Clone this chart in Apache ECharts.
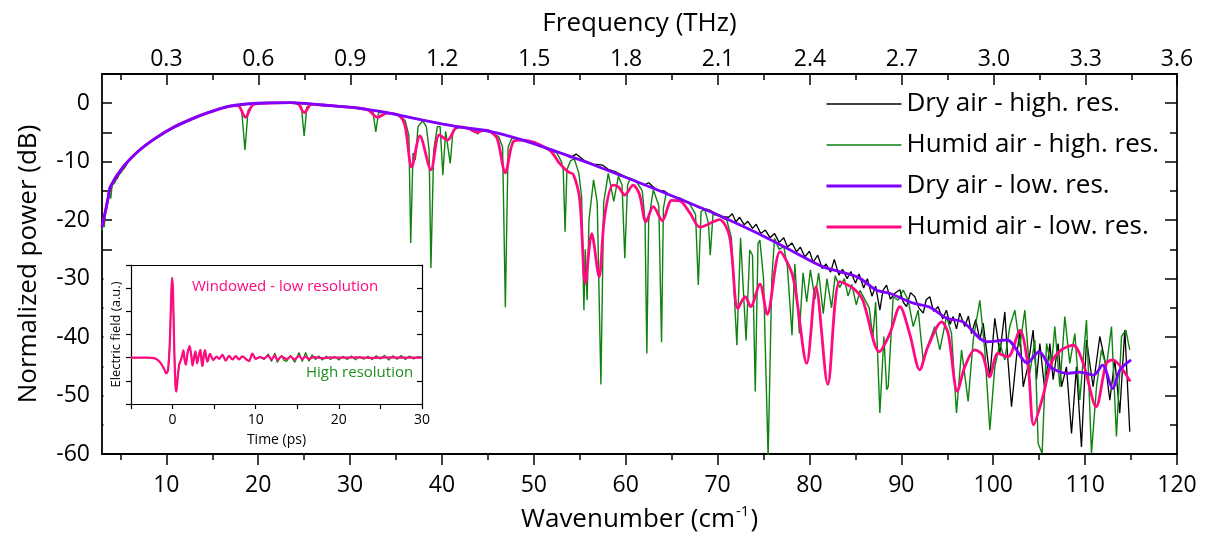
<!DOCTYPE html>
<html>
<head>
<meta charset="utf-8">
<script src="https://cdn.jsdelivr.net/npm/echarts@6/dist/echarts.min.js"></script>
<style>html,body{margin:0;padding:0;background:#fff}#c{width:1210px;height:538px}</style>
</head>
<body>
<div id="c"></div>
<script>
// ---------- tick labels ----------
const wavenumberTicks = [10,20,30,40,50,60,70,80,90,100,110,120];
const wavenumberMinor = [5,15,25,35,45,55,65,75,85,95,105,115];
const frequencyTicks = [0.3,0.6,0.9,1.2,1.5,1.8,2.1,2.4,2.7,3.0,3.3,3.6];
const frequencyMinor = [0.15,0.45,0.75,1.05,1.35,1.65,1.95,2.25,2.55,2.85,3.15,3.45];
const powerTicks = [-60,-50,-40,-30,-20,-10,0];
const powerMinor = [-55,-45,-35,-25,-15,-5];
const timeTicks = [0,10,20,30];
const timeMinor = [-5,0,5,10,15,20,25,30];

// ---------- series: [wavenumber (cm-1), power (dB)] ----------
const dryHighRes = [[3.0,-21.6],[3.2,-20.0],[3.4,-18.3],[3.6,-17.0],[3.8,-15.0],[4.0,-14.6],[4.3,-13.2],[4.6,-13.0],[5.0,-11.8],[5.5,-10.9],[6.0,-9.6],[7.0,-8.1],[8.0,-6.8],[9.0,-5.9],[10.0,-4.9],[11.0,-4.0],[12.0,-3.3],[13.0,-2.5],[14.0,-2.0],[15.0,-1.3],[16.0,-0.9],[17.0,-0.5],[18.0,-0.3],[20.0,0.0],[22.0,0.1],[24.0,0.0],[26.0,-0.2],[28.0,-0.4],[30.0,-0.7],[32.0,-1.1],[34.0,-1.6],[36.0,-2.2],[38.0,-2.9],[40.0,-3.5],[42.0,-4.1],[44.0,-4.5],[45.5,-5.0],[47.0,-5.5],[49.0,-6.4],[51.0,-7.4],[53.0,-8.5],[54.0,-9.3],[54.6,-8.7],[55.5,-9.8],[56.5,-10.4],[57.5,-10.6],[58.1,-11.3],[59.0,-11.8],[60.0,-12.6],[61.0,-13.2],[62.0,-14.0],[62.5,-13.6],[63.4,-14.9],[64.2,-15.0],[65.0,-15.9],[66.0,-16.3],[67.0,-17.1],[68.0,-17.9],[69.0,-18.2],[70.0,-19.0],[70.6,-19.4],[71.2,-19.5],[71.6,-18.9],[72.0,-20.3],[72.4,-19.5],[72.9,-20.8],[73.3,-20.2],[73.8,-21.4],[74.2,-20.7],[74.7,-22.3],[75.2,-21.7],[75.7,-23.0],[76.2,-22.3],[76.7,-23.8],[77.2,-23.0],[77.6,-24.6],[78.1,-23.9],[78.6,-25.4],[79.0,-24.6],[79.5,-26.3],[80.0,-25.3],[80.4,-27.2],[80.9,-26.0],[81.4,-28.3],[81.8,-27.5],[82.3,-28.9],[82.7,-26.7],[83.2,-29.4],[83.6,-28.4],[84.1,-30.0],[84.5,-28.8],[85.0,-30.8],[85.4,-29.2],[85.9,-31.6],[86.3,-30.0],[86.8,-33.0],[87.2,-31.3],[87.66,-35.4],[88.0,-32.0],[88.39,-31.1],[88.8,-33.5],[89.29,-32.5],[89.84,-31.9],[90.2,-34.0],[90.56,-34.8],[91.0,-32.4],[91.47,-33.1],[91.9,-35.0],[92.38,-35.9],[92.7,-33.6],[93.1,-33.1],[93.5,-35.6],[94.0,-34.8],[94.5,-36.9],[94.9,-35.4],[95.3,-37.8],[95.64,-36.5],[96.0,-38.6],[96.36,-35.9],[96.9,-38.2],[97.3,-36.4],[97.63,-39.4],[98.1,-37.0],[98.54,-40.5],[98.9,-37.6],[99.27,-42.2],[99.63,-46.8],[100.17,-36.8],[100.72,-42.8],[101.26,-35.7],[101.6,-44.0],[101.99,-51.9],[102.53,-43.4],[102.9,-39.0],[103.26,-48.5],[103.8,-44.8],[104.34,-38.8],[104.71,-47.3],[105.07,-41.1],[105.61,-49.1],[106.16,-41.1],[106.52,-47.3],[107.06,-41.1],[107.43,-48.5],[107.97,-45.1],[108.52,-56.5],[109.06,-45.1],[109.6,-58.8],[110.15,-40.5],[110.87,-48.5],[111.6,-39.9],[112.14,-43.9],[112.69,-50.8],[113.23,-43.9],[113.77,-53.0],[114.32,-38.8],[114.86,-56.2]];

const humidHighRes = [[3.0,-21.8],[3.1,-19.6],[3.25,-21.2],[3.4,-18.0],[3.6,-17.2],[3.8,-15.2],[3.95,-16.3],[4.1,-14.0],[4.4,-13.6],[4.7,-12.3],[5.0,-12.0],[5.5,-10.9],[6.0,-9.6],[7.0,-8.1],[8.0,-6.8],[9.0,-5.9],[10.0,-4.9],[11.0,-4.0],[12.0,-3.3],[13.0,-2.5],[14.0,-2.0],[15.0,-1.3],[16.0,-0.9],[17.0,-0.5],[17.8,-0.4],[18.2,-1.2],[18.56,-8.0],[18.9,-1.2],[19.4,-0.3],[20.0,0.0],[22.0,0.1],[24.0,0.0],[24.7,-0.6],[25.0,-5.6],[25.3,-0.6],[26.0,-0.2],[28.0,-0.4],[30.0,-0.7],[32.0,-1.1],[32.5,-1.6],[32.8,-4.9],[33.1,-1.6],[34.0,-1.6],[35.4,-2.0],[36.0,-3.0],[36.4,-5.5],[36.6,-23.9],[36.85,-8.5],[37.1,-9.7],[37.4,-4.0],[37.9,-3.0],[38.3,-4.0],[38.6,-8.0],[38.8,-28.2],[39.1,-8.0],[39.5,-4.0],[39.8,-4.0],[40.1,-12.3],[40.4,-4.8],[40.6,-4.6],[40.9,-10.3],[41.2,-4.6],[42.0,-4.1],[43.6,-4.5],[43.9,-5.3],[44.2,-4.5],[45.5,-5.0],[46.2,-5.8],[46.6,-7.5],[46.9,-34.9],[47.2,-7.5],[47.6,-6.0],[49.0,-6.4],[51.0,-7.4],[52.5,-8.5],[53.0,-10.0],[53.2,-11.4],[53.4,-22.0],[53.6,-11.4],[54.0,-9.8],[54.4,-9.5],[54.9,-12.0],[55.2,-16.0],[55.45,-35.4],[55.6,-25.0],[55.8,-33.7],[56.0,-20.0],[56.5,-13.1],[56.9,-17.0],[57.3,-48.1],[57.6,-17.0],[58.1,-12.0],[58.7,-16.8],[59.2,-12.5],[59.6,-14.0],[59.9,-26.5],[60.2,-14.0],[60.5,-12.8],[61.2,-13.5],[61.8,-15.0],[62.1,-20.0],[62.3,-42.8],[62.5,-20.0],[63.0,-14.8],[63.6,-17.5],[63.9,-40.9],[64.1,-18.0],[64.4,-15.4],[65.0,-15.9],[66.0,-16.3],[67.0,-17.3],[67.6,-19.0],[67.9,-31.1],[68.2,-18.5],[68.6,-18.2],[69.0,-20.5],[69.2,-26.0],[69.5,-19.0],[70.0,-19.2],[71.0,-20.0],[71.5,-23.0],[72.1,-41.4],[72.5,-23.0],[72.7,-22.8],[73.1,-40.6],[73.5,-25.1],[73.8,-26.0],[74.1,-49.3],[74.4,-24.0],[74.6,-23.4],[75.0,-30.0],[75.5,-60.5],[75.9,-30.0],[76.2,-23.1],[76.7,-25.0],[77.2,-24.5],[77.6,-28.0],[78.1,-39.7],[78.4,-27.5],[78.9,-39.4],[79.3,-29.0],[79.7,-34.0],[80.1,-28.5],[80.6,-33.5],[81.0,-29.0],[81.5,-36.0],[81.9,-30.0],[82.4,-35.0],[82.8,-29.5],[83.3,-31.5],[83.8,-30.0],[84.2,-33.0],[84.6,-31.0],[85.1,-34.5],[85.5,-32.0],[86.0,-33.5],[86.5,-35.0],[86.9,-40.0],[87.2,-34.0],[87.66,-53.0],[88.1,-39.9],[88.4,-49.0],[88.57,-48.5],[89.11,-33.1],[89.65,-33.7],[90.2,-31.95],[90.74,-33.7],[91.29,-38.2],[91.83,-35.4],[92.37,-43.9],[93.1,-40.5],[93.64,-38.2],[94.19,-42.2],[94.91,-36.5],[95.46,-39.4],[96.0,-53.0],[96.55,-42.2],[97.27,-51.0],[97.82,-40.5],[98.54,-33.7],[99.08,-42.2],[99.63,-55.9],[100.17,-45.1],[100.72,-41.1],[101.26,-43.9],[101.8,-38.2],[102.35,-35.4],[102.89,-41.6],[103.44,-35.4],[103.98,-46.2],[104.53,-40.5],[104.89,-58.2],[105.32,-59.9],[105.8,-41.1],[106.34,-45.1],[106.7,-38.2],[107.25,-48.5],[107.79,-36.5],[108.33,-44.5],[108.88,-39.4],[109.42,-50.8],[110.15,-37.1],[110.69,-59.9],[111.24,-48.5],[111.78,-42.2],[112.32,-45.1],[112.87,-38.2],[113.41,-57.0],[113.96,-39.9],[114.43,-38.8],[114.86,-42.2]];

const dryLowRes = [[3.0,-21.2],[3.33,-18.8],[3.69,-16.0],[3.9,-14.3],[5.3,-10.9],[7.1,-8.0],[9.0,-5.8],[10.7,-4.2],[12.6,-2.8],[14.4,-1.7],[16.9,-0.5],[19.9,0.0],[23.5,0.1],[27.0,-0.3],[30.7,-0.8],[34.3,-1.7],[37.9,-2.9],[41.6,-4.0],[45.2,-4.8],[48.8,-6.3],[52.5,-8.3],[56.1,-10.3],[59.7,-12.5],[63.4,-14.8],[67.0,-17.1],[70.6,-19.5],[74.3,-22.2],[77.9,-25.1],[81.5,-28.0],[85.2,-29.7],[87.3,-32.0],[88.7,-32.5],[91.3,-34.2],[93.1,-34.9],[95.0,-36.8],[96.7,-37.4],[99.3,-40.8],[101.5,-40.5],[103.7,-44.4],[105.0,-42.5],[106.2,-45.1],[108.0,-46.2],[109.4,-46.0],[110.9,-46.5],[111.9,-44.8],[113.0,-48.8],[113.8,-45.6],[115.0,-43.9]];

const humidLowRes = [[3.0,-21.2],[3.33,-18.8],[3.69,-16.0],[3.9,-14.3],[5.3,-10.9],[7.1,-8.0],[9.0,-5.8],[10.7,-4.2],[12.6,-2.8],[14.4,-1.7],[16.9,-0.5],[17.8,-0.4],[18.6,-2.4],[19.4,-0.3],[20.5,0.0],[23.5,0.1],[24.3,0.0],[25.0,-1.6],[25.8,-0.2],[27.0,-0.3],[30.7,-0.8],[32.0,-1.2],[33.0,-2.4],[34.0,-1.7],[35.4,-2.2],[36.0,-4.0],[36.7,-10.9],[37.6,-5.6],[38.8,-11.4],[39.7,-5.4],[40.6,-6.3],[41.7,-4.0],[43.0,-4.4],[43.8,-5.0],[44.6,-4.6],[45.2,-4.8],[46.0,-6.0],[46.9,-11.9],[47.8,-6.5],[48.8,-6.3],[51.7,-8.0],[52.8,-10.3],[53.7,-11.7],[54.3,-12.2],[55.0,-16.6],[55.6,-30.8],[56.3,-22.3],[57.1,-29.7],[57.7,-19.4],[58.6,-14.0],[59.2,-14.3],[59.9,-15.7],[60.8,-14.0],[61.5,-15.6],[62.2,-20.3],[63.0,-17.7],[64.0,-20.1],[65.0,-16.6],[65.9,-16.7],[67.0,-18.8],[68.1,-21.2],[70.2,-19.9],[71.3,-22.8],[72.2,-35.1],[73.0,-33.1],[73.6,-34.8],[74.6,-30.9],[75.4,-36.1],[76.8,-25.4],[78.2,-29.7],[79.7,-44.5],[80.7,-31.4],[82.0,-48.1],[83.3,-30.5],[84.8,-31.7],[85.8,-33.7],[87.6,-42.5],[88.75,-39.4],[89.84,-34.8],[90.9,-39.4],[92.0,-45.6],[92.9,-41.6],[94.4,-37.4],[95.1,-39.4],[96.1,-49.3],[96.9,-45.1],[98.0,-42.2],[98.8,-43.0],[99.6,-46.8],[100.5,-42.8],[101.6,-43.4],[102.9,-38.8],[103.8,-45.1],[104.4,-55.0],[105.4,-50.2],[106.3,-44.5],[107.4,-42.2],[108.7,-41.4],[109.8,-44.5],[111.2,-51.9],[112.3,-44.5],[113.0,-43.9],[114.9,-47.6]];

// ---------- inset: [time (ps), electric field (a.u.)] ----------
const insetPulse = [[-5,0],[-3,0],[-2.2,-0.02],[-1.8,-0.1],[-1.4,-0.25],[-1.0,-0.5],[-0.75,-0.68],[-0.55,-0.55],[-0.35,0.5],[-0.15,2.8],[-0.05,3.45],[0.05,2.9],[0.2,0.4],[0.35,-1.2],[0.45,-1.47],[0.6,-0.9],[0.8,-0.3],[1.0,-0.1],[1.15,0.1],[1.3,0.32],[1.45,-0.1],[1.6,-0.3],[1.8,0.2],[2.05,0.5],[2.25,0.1],[2.4,-0.34],[2.6,0.05],[2.75,0.27],[2.95,-0.25],[3.15,0.1],[3.35,0.34],[3.5,-0.2],[3.6,-0.36],[3.75,0.1],[3.9,0.33],[4.05,0.0],[4.2,-0.17],[4.5,0.16],[4.9,-0.1],[5.3,0.05],[5.6,-0.05],[6.0,0.12],[6.4,-0.13],[6.8,0.08],[7.2,-0.08],[7.6,0.07],[8.0,-0.08],[8.4,0.06],[8.8,-0.05],[9.2,-0.15],[9.6,0.18]];
const insetLowTail = [[10.0,-0.05],[10.5,0.02],[11.0,-0.03],[11.5,0.08],[11.9,-0.08],[12.3,0.1],[12.6,-0.1],[13.1,0.05],[13.7,-0.06],[14.2,0.04],[14.7,-0.07],[15.2,0.08],[15.6,-0.06],[16.0,0.05],[16.4,-0.05],[17,0.02],[18,-0.02],[19,0.01],[20,0],[22,0.01],[24,-0.01],[26,0.01],[28,0],[30,0]];
const insetHighTail = [[10.0,-0.05],[10.5,0.05],[11.0,-0.08],[11.5,0.16],[11.9,-0.17],[12.3,0.2],[12.6,-0.2],[13.1,0.1],[13.4,-0.12],[13.7,-0.16],[14.2,0.1],[14.7,-0.2],[15.2,0.22],[15.6,-0.17],[16.0,0.22],[16.4,-0.15],[16.8,0.12],[17.2,-0.08],[17.6,0.08],[18.0,-0.1],[18.5,0.06],[19.0,-0.08],[19.5,0.05],[20.0,-0.1],[20.5,0.06],[21.0,-0.08],[21.5,0.07],[22.0,-0.09],[22.5,0.05],[23.0,-0.07],[23.5,0.06],[24.0,-0.08],[24.5,0.08],[25.0,-0.06],[25.5,0.1],[26.0,-0.1],[26.5,0.08],[27.0,-0.07],[27.5,0.09],[28.0,-0.08],[28.5,0.07],[29.0,-0.06],[29.5,0.05],[30.0,0]];

// ---------- build option ----------
const THZ_TO_CM = 33.3564;
const WMIN = 3, WMAX = 120;
const toCm = f => Math.min(f * THZ_TO_CM, WMAX);
const FONT = 'Open Sans';
const C_BLACK = '#000000', C_GREEN = '#0f820f', C_PURPLE = '#7f00ff', C_PINK = '#ff0a80';
const axisLineStyle = { color: '#000', width: 1.8 };

const chart = echarts.init(document.getElementById('c'), null, { renderer: 'canvas' });

const option = {
  animation: false,
  backgroundColor: '#fff',
  textStyle: { fontFamily: FONT, color: '#000' },
  grid: [
    { left: 102, right: 33, top: 74, bottom: 84, containLabel: false, outerBoundsMode: 'none' },
    { left: 131, right: 788, top: 265, bottom: 134, z: 3, containLabel: false, outerBoundsMode: 'none' }
  ],
  legend: {
    show: true,
    orient: 'vertical', left: 820, top: 86,
    itemWidth: 75, itemHeight: 14, itemGap: 15,
    itemStyle: { opacity: 0 },
    textStyle: { fontFamily: FONT, fontSize: 26, color: '#000' },
    data: [
      { name: 'Dry air - high. res.', lineStyle: { width: 1.5 } },
      { name: 'Humid air - high. res.', lineStyle: { width: 1.5 } },
      { name: 'Dry air - low. res.', lineStyle: { width: 3 } },
      { name: 'Humid air - low. res.', lineStyle: { width: 3 } }
    ]
  },
  graphic: [
    { type: 'rect', z: 1, shape: { x: 103.5, y: 258, width: 326, height: 194.5 }, style: { fill: '#fff' } },
    { type: 'text', z: 10, left: 192, top: 279, style: { text: 'Windowed - low resolution', fill: C_PINK, font: '15px "Open Sans"' } },
    { type: 'text', z: 10, left: 306, top: 365, style: { text: 'High resolution', fill: '#1f8f1f', font: '15px "Open Sans"' } }
  ],
  xAxis: [
    { gridIndex: 0, type: 'value', min: WMIN, max: WMAX, position: 'bottom',
      axisLine: { show: true, onZero: false, lineStyle: axisLineStyle },
      axisTick: { show: true, inside: false, length: 11, lineStyle: { width: 1.5, color: '#000' }, customValues: wavenumberTicks },
      axisLabel: { fontSize: 23, fontFamily: FONT, color: '#000', margin: 20, customValues: wavenumberTicks },
      splitLine: { show: false },
      name: 'Wavenumber (cm{sup|-1})', nameLocation: 'middle', nameGap: 50,
      nameTextStyle: { fontSize: 26, fontFamily: FONT, color: '#000', lineHeight: 32,
        rich: { sup: { fontSize: 15, fontFamily: FONT, color: '#000', verticalAlign: 'top', lineHeight: 32, padding: [0, 1, 0, 1] } } } },
    { gridIndex: 0, type: 'value', min: WMIN, max: WMAX, position: 'bottom',
      axisLine: { show: false, onZero: false },
      axisTick: { show: true, inside: false, length: 6, lineStyle: { width: 1.5, color: '#000' }, customValues: wavenumberMinor },
      axisLabel: { show: false }, splitLine: { show: false } },
    { gridIndex: 0, type: 'value', min: WMIN, max: WMAX, position: 'top',
      axisLine: { show: true, onZero: false, lineStyle: axisLineStyle },
      axisTick: { show: true, inside: true, length: 11, lineStyle: { width: 1.5, color: '#000' }, customValues: frequencyTicks.map(toCm) },
      axisLabel: { fontSize: 23, fontFamily: FONT, color: '#000', margin: 3, customValues: frequencyTicks.map(toCm),
        formatter: v => (v / THZ_TO_CM).toFixed(1) },
      splitLine: { show: false },
      name: 'Frequency (THz)', nameLocation: 'middle', nameGap: 37,
      nameTextStyle: { fontSize: 26, fontFamily: FONT, color: '#000' } },
    { gridIndex: 0, type: 'value', min: WMIN, max: WMAX, position: 'top',
      axisLine: { show: false, onZero: false },
      axisTick: { show: true, inside: true, length: 6, lineStyle: { width: 1.5, color: '#000' }, customValues: frequencyMinor.map(toCm) },
      axisLabel: { show: false }, splitLine: { show: false } },
    { gridIndex: 1, type: 'value', min: -5, max: 30, position: 'bottom', z: 5,
      axisLine: { show: true, onZero: false, lineStyle: { color: '#000', width: 1.2 } },
      axisTick: { show: true, inside: false, length: 5, lineStyle: { width: 1.2, color: '#000' }, customValues: timeMinor },
      axisLabel: { fontSize: 14, fontFamily: FONT, color: '#000', margin: 9, customValues: timeTicks },
      splitLine: { show: false },
      name: 'Time (ps)', nameLocation: 'middle', nameGap: 29,
      nameTextStyle: { fontSize: 14, fontFamily: FONT, color: '#000' } },
    { gridIndex: 1, type: 'value', min: -5, max: 30, position: 'top', z: 5,
      axisLine: { show: true, onZero: false, lineStyle: { color: '#000', width: 1.2 } },
      axisTick: { show: false }, axisLabel: { show: false }, splitLine: { show: false } }
  ],
  yAxis: [
    { gridIndex: 0, type: 'value', min: -60, max: 5, position: 'left',
      axisLine: { show: true, onZero: false, lineStyle: axisLineStyle },
      axisTick: { show: true, inside: true, length: 10, lineStyle: { width: 1.5, color: '#000' }, customValues: powerTicks.concat(powerMinor) },
      axisLabel: { fontSize: 23, fontFamily: FONT, color: '#000', margin: 12, customValues: powerTicks },
      splitLine: { show: false },
      name: 'Normalized power (dB)', nameLocation: 'middle', nameGap: 60,
      nameTextStyle: { fontSize: 26, fontFamily: FONT, color: '#000' } },
    { gridIndex: 0, type: 'value', min: -60, max: 5, position: 'right',
      axisLine: { show: true, onZero: false, lineStyle: axisLineStyle },
      axisTick: { show: true, inside: true, length: 12, lineStyle: { width: 1.5, color: '#000' }, customValues: powerTicks },
      axisLabel: { show: false }, splitLine: { show: false } },
    { gridIndex: 0, type: 'value', min: -60, max: 5, position: 'right',
      axisLine: { show: false, onZero: false },
      axisTick: { show: true, inside: true, length: 7, lineStyle: { width: 1.5, color: '#000' }, customValues: powerMinor },
      axisLabel: { show: false }, splitLine: { show: false } },
    { gridIndex: 1, type: 'value', min: -2, max: 4, interval: 1, position: 'left', z: 5,
      axisLine: { show: true, onZero: false, lineStyle: { color: '#000', width: 1.2 } },
      axisTick: { show: true, inside: false, length: 5, lineStyle: { width: 1.2, color: '#000' } },
      axisLabel: { show: false }, splitLine: { show: false },
      name: 'Electric field (a.u.)', nameLocation: 'middle', nameGap: 8,
      nameTextStyle: { fontSize: 13, fontFamily: FONT, color: '#000' } },
    { gridIndex: 1, type: 'value', min: -2, max: 4, interval: 1, position: 'right', z: 5,
      axisLine: { show: true, onZero: false, lineStyle: { color: '#000', width: 1.2 } },
      axisTick: { show: true, inside: true, length: 5, lineStyle: { width: 1.2, color: '#000' } },
      axisLabel: { show: false }, splitLine: { show: false } }
  ],
  series: [
    { name: 'Dry air - high. res.', type: 'line', xAxisIndex: 0, yAxisIndex: 0, data: dryHighRes,
      symbol: 'none', lineStyle: { color: C_BLACK, width: 1.3 }, itemStyle: { color: C_BLACK }, z: 2 },
    { name: 'Humid air - high. res.', type: 'line', xAxisIndex: 0, yAxisIndex: 0, data: humidHighRes,
      symbol: 'none', lineStyle: { color: C_GREEN, width: 1.4 }, itemStyle: { color: C_GREEN }, z: 2 },
    { name: 'Dry air - low. res.', type: 'line', xAxisIndex: 0, yAxisIndex: 0, data: dryLowRes, smooth: 0.3,
      symbol: 'none', lineStyle: { color: C_PURPLE, width: 2.8 }, itemStyle: { color: C_PURPLE }, z: 4 },
    { name: 'Humid air - low. res.', type: 'line', xAxisIndex: 0, yAxisIndex: 0, data: humidLowRes, smooth: 0.3,
      symbol: 'none', lineStyle: { color: C_PINK, width: 2.8 }, itemStyle: { color: C_PINK }, z: 3 },
    { name: 'inset-high', type: 'line', xAxisIndex: 4, yAxisIndex: 3, data: insetPulse.concat(insetHighTail),
      symbol: 'none', lineStyle: { color: C_GREEN, width: 1.3 }, z: 6 },
    { name: 'inset-low', type: 'line', xAxisIndex: 4, yAxisIndex: 3, data: insetPulse.concat(insetLowTail), smooth: 0.3,
      symbol: 'none', lineStyle: { color: C_PINK, width: 2.2 }, z: 7 }
  ]
};
chart.setOption(option);
</script>
</body>
</html>
